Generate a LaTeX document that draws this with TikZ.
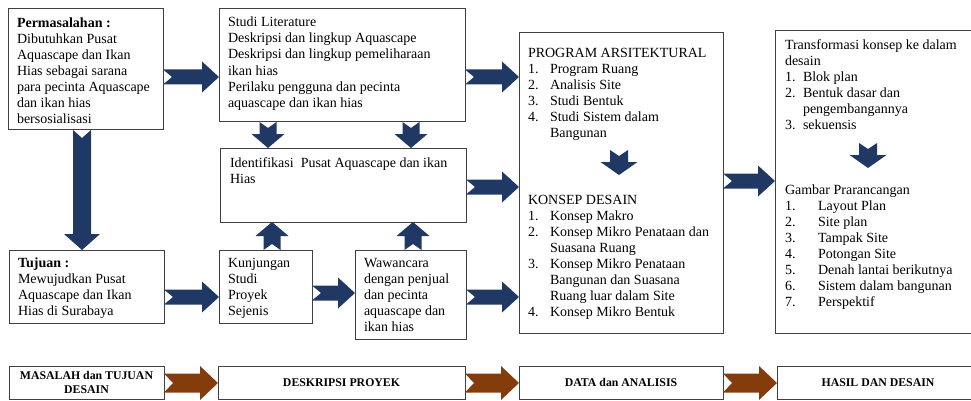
\documentclass[tikz,border=0pt]{standalone}
\usepackage{fontspec}
\setmainfont{Liberation Serif}
\usetikzlibrary{calc}
\definecolor{navyarrow}{HTML}{1F3864}
\definecolor{brownarrow}{HTML}{843C0C}
\definecolor{boxline}{HTML}{404040}
\newcommand{\BAw}{7.5pt}
\newcommand{\BAH}{15.5pt}
\newcommand{\BAh}{17pt}
\newcommand{\BAn}{9pt}
\newcommand{\blockarrow}[3]{%
  \fill[#1] ($(#2)!\BAw!90:(#3)$)
    -- ($(#3)!\BAh!(#2)!\BAw!-90:(#2)$)
    -- ($(#3)!\BAh!(#2)!\BAH!-90:(#2)$)
    -- (#3)
    -- ($(#3)!\BAh!(#2)!\BAH!90:(#2)$)
    -- ($(#3)!\BAh!(#2)!\BAw!90:(#2)$)
    -- ($(#2)!\BAw!-90:(#3)$)
    -- ($(#2)!\BAn!(#3)$)
    -- cycle;}
\newcommand{\itm}[2][22pt]{\makebox[#1][l]{#2}}
\tikzset{
  box/.style={draw=boxline, line width=1pt, inner sep=0pt, outer sep=0pt, anchor=north west},
  txt/.style={inner sep=0pt, outer sep=0pt, anchor=north west, align=left, font=\fontsize{14}{16}\selectfont},
  bbox/.style={draw=boxline, line width=1pt, inner sep=0pt, outer sep=0pt, anchor=north west,
    minimum height=33pt, align=center, font=\fontsize{11.8}{14}\selectfont\bfseries},
}
\begin{document}
\begin{tikzpicture}[x=1pt, y=-1pt]
\useasboundingbox (0,0) rectangle (971,401);
\clip (0,0) rectangle (971,401);
% main boxes
\node[box, minimum width=155pt, minimum height=121pt] (perm) at (8,9) {};
\node[box, minimum width=246pt, minimum height=113pt] (studi) at (219,9) {};
\node[box, minimum width=246pt, minimum height=74pt] (ident) at (220,148) {};
\node[box, minimum width=155pt, minimum height=73pt] (tujuan) at (9,250) {};
\node[box, minimum width=93pt, minimum height=73pt] (kunj) at (219,250) {};
\node[box, minimum width=111pt, minimum height=89pt] (waw) at (355,250) {};
\node[box, minimum width=204pt, minimum height=300pt] (prog) at (519,33) {};
\node[box, minimum width=204pt, minimum height=302pt] (right) at (775,31) {};
% texts
\node[txt] (permT) at (17,16.3) {\strut\textbf{Permasalahan :}\\Dibutuhkan Pusat\\Aquascape dan Ikan\\Hias sebagai sarana\\para pecinta Aquascape\\dan ikan hias\\bersosialisasi};
\node[txt] (studiT) at (228,15.8) {\strut Studi Literature\\Deskripsi dan lingkup Aquascape\\Deskripsi dan lingkup pemeliharaan\\ikan hias\\Perilaku pengguna dan pecinta\\aquascape dan ikan hias};
\node[txt] (identT) at (230,156) {\strut Identifikasi~ Pusat Aquascape dan ikan\\Hias};
\node[txt] (tujuanT) at (18,256) {\strut\textbf{Tujuan :}\\Mewujudkan Pusat\\Aquascape dan Ikan\\Hias di Surabaya};
\node[txt] (kunjT) at (228,256) {\strut Kunjungan\\Studi\\Proyek\\Sejenis};
\node[txt] (wawT) at (364,256) {\strut Wawancara\\dengan penjual\\dan pecinta\\aquascape dan\\ikan hias};
\node[txt] (progT) at (528,46.4) {\strut PROGRAM ARSITEKTURAL\\\itm{1.}Program Ruang\\\itm{2.}Analisis Site\\\itm{3.}Studi Bentuk\\\itm{4.}Studi Sistem dalam\\\itm{}Bangunan};
\node[txt] (progT2) at (528,193.4) {\strut KONSEP DESAIN\\\itm{1.}Konsep Makro\\\itm{2.}Konsep Mikro Penataan dan\\\itm{}Suasana Ruang\\\itm{3.}Konsep Mikro Penataan\\\itm{}Bangunan dan Suasana\\\itm{}Ruang luar dalam Site\\\itm{4.}Konsep Mikro Bentuk};
\node[txt] (rightT) at (785,38.3) {\strut Transformasi konsep ke dalam\\desain\\\itm[18pt]{1.}Blok plan\\\itm[18pt]{2.}Bentuk dasar dan\\\itm[18pt]{}pengembangannya\\\itm[18pt]{3.}sekuensis};
\node[txt] (rightT2) at (785,183.3) {\strut Gambar Prarancangan\\\itm[33pt]{1.}Layout Plan\\\itm[33pt]{2.}Site plan\\\itm[33pt]{3.}Tampak Site\\\itm[33pt]{4.}Potongan Site\\\itm[33pt]{5.}Denah lantai berikutnya\\\itm[33pt]{6.}Sistem dalam bangunan\\\itm[33pt]{7.}Perspektif};
% bottom bar
\node[bbox, minimum width=155pt] (b1) at (9,366) {MASALAH dan TUJUAN\\DESAIN};
\node[bbox, minimum width=247pt] (b2) at (218,366) {DESKRIPSI PROYEK};
\node[bbox, minimum width=204pt] (b3) at (519,366) {DATA dan ANALISIS};
\node[bbox, minimum width=202pt] (b4) at (777,366) {HASIL DAN DESAIN};
% levels
\coordinate (y77) at (0,77);
\coordinate (y187) at (0,187);
\coordinate (y297) at (0,297);
\coordinate (y293) at (0,293);
\coordinate (y181) at (0,181);
\coordinate (y383) at (0,383);
\coordinate (x82) at (82,0);
\coordinate (x268) at (268,0);
\coordinate (x411) at (411,0);
\coordinate (x272) at (272,0);
\coordinate (x413) at (413,0);
% horizontal navy arrows
\coordinate (a1s) at (perm.east |- y77);   \coordinate (a1e) at (studi.west |- y77);
\coordinate (a2s) at (studi.east |- y77);  \coordinate (a2e) at (prog.west |- y77);
\coordinate (a3s) at (ident.east |- y187); \coordinate (a3e) at (prog.west |- y187);
\coordinate (a4s) at (waw.east |- y297);   \coordinate (a4e) at (prog.west |- y297);
\coordinate (a5s) at (tujuan.east |- y297);\coordinate (a5e) at (kunj.west |- y297);
\coordinate (a6s) at (kunj.east |- y293);  \coordinate (a6e) at (waw.west |- y293);
\coordinate (a7s) at (prog.east |- y181);  \coordinate (a7e) at (right.west |- y181);
\blockarrow{navyarrow}{a1s}{a1e}
\blockarrow{navyarrow}{a2s}{a2e}
\blockarrow{navyarrow}{a3s}{a3e}
\blockarrow{navyarrow}{a4s}{a4e}
\blockarrow{navyarrow}{a5s}{a5e}
\blockarrow{navyarrow}{a6s}{a6e}
\blockarrow{navyarrow}{a7s}{a7e}
% long vertical arrow
\coordinate (v1s) at (perm.south -| x82); \coordinate (v1e) at (tujuan.north -| x82);
{\def\BAw{9pt}\def\BAH{18pt}\def\BAh{16pt}\def\BAn{8pt}
\blockarrow{navyarrow}{v1s}{v1e}}
% short vertical arrows
\coordinate (v2s) at (studi.south -| x268); \coordinate (v2e) at (ident.north -| x268);
\coordinate (v3s) at (studi.south -| x411); \coordinate (v3e) at (ident.north -| x411);
\coordinate (v4s) at (kunj.north -| x272);  \coordinate (v4e) at (ident.south -| x272);
\coordinate (v5s) at (waw.north -| x413);   \coordinate (v5e) at (ident.south -| x413);
\coordinate (v6s) at (619,150); \coordinate (v6e) at (619,175);
\coordinate (v7s) at (868,143); \coordinate (v7e) at (868,168);
{\def\BAw{8.5pt}\def\BAH{16.5pt}\def\BAh{14pt}\def\BAn{6pt}
\blockarrow{navyarrow}{v2s}{v2e}
\blockarrow{navyarrow}{v3s}{v3e}
\blockarrow{navyarrow}{v4s}{v4e}
\blockarrow{navyarrow}{v5s}{v5e}}
{\def\BAw{9pt}\def\BAH{18.5pt}\def\BAh{13pt}\def\BAn{6pt}
\blockarrow{navyarrow}{v6s}{v6e}
\blockarrow{navyarrow}{v7s}{v7e}}
% brown arrows
\coordinate (c1s) at (b1.east |- y383); \coordinate (c1e) at (b2.west |- y383);
\coordinate (c2s) at (b2.east |- y383); \coordinate (c2e) at (b3.west |- y383);
\coordinate (c3s) at (b3.east |- y383); \coordinate (c3e) at (b4.west |- y383);
{\def\BAw{9.5pt}\def\BAH{17pt}\def\BAh{18pt}\def\BAn{9pt}
\blockarrow{brownarrow}{c1s}{c1e}
\blockarrow{brownarrow}{c2s}{c2e}
\blockarrow{brownarrow}{c3s}{c3e}}
\end{tikzpicture}
\end{document}
